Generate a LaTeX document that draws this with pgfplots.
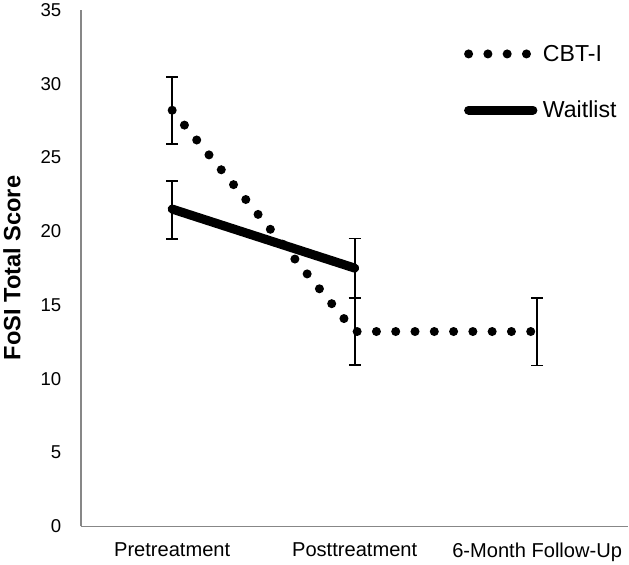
\documentclass[border=0pt]{standalone}
\usepackage{pgfplots}
\pgfplotsset{compat=1.18}
\usepackage{fontspec}
\setmainfont{Liberation Sans}
\pgfplotsset{
  cbtleg/.style={legend image code/.code={\draw[##1] (0pt,0pt) -- (58pt,0pt);}},
  waitleg/.style={legend image code/.code={\draw[##1] (0pt,0pt) -- (64pt,0pt);}},
}
\begin{document}
\begin{tikzpicture}
\begin{axis}[
  scale only axis,
  width=545pt, height=514pt,
  xmin=-0.5, xmax=2.5, ymin=0, ymax=35,
  axis lines=left,
  axis line style={-, draw=black!47, line width=1.2pt},
  xtick={0,1,2},
  xticklabels={Pretreatment, Posttreatment, 6-Month Follow-Up},
  ytick={0,5,...,35},
  major tick length=0pt,
  /pgf/number format/assume math mode=true,
  yticklabel style={font=\fontsize{18.5}{22}\selectfont, xshift=-16pt},
  xticklabel style={font=\fontsize{20}{24}\selectfont, yshift=-13pt},
  ylabel={FoSI Total Score},
  ylabel style={font=\fontsize{23.5}{28}\selectfont\bfseries},
  ylabel shift=13pt,
  legend style={at={(axis description cs:0.694,0.94)}, anchor=north west,
    draw=none, fill=none, font=\fontsize{23}{27}\selectfont, row sep=34pt,
    column sep=4pt, nodes={inner xsep=1.5pt}},
  legend cell align=left,
  clip=false,
]
\addplot[black, line width=9pt, line cap=round, dash pattern=on 0pt off 19.2pt,
  cbtleg,
  error bars/.cd, y dir=both, y explicit,
  error bar style={solid, line width=1.7pt, line cap=butt, black},
  error mark options={rotate=90, mark size=6pt, line width=1.7pt, solid, black}]
  table[x=x, y=y, y error plus=ep, y error minus=em] {
  x y ep em
  0 28.2 2.25 2.3
  1 13.2 2.25 2.25
  2 13.2 2.25 2.3
};
\addlegendentry{CBT-I}
\addplot[black, line width=9pt, line cap=round,
  waitleg,
  error bars/.cd, y dir=both, y explicit,
  error bar style={solid, line width=1.7pt, line cap=butt, black},
  error mark options={rotate=90, mark size=6pt, line width=1.7pt, solid, black}]
  table[x=x, y=y, y error plus=ep, y error minus=em] {
  x y ep em
  0 21.5 1.9 2.05
  1 17.5 2.0 2.0
};
\addlegendentry{Waitlist}
\end{axis}
\end{tikzpicture}
\end{document}
